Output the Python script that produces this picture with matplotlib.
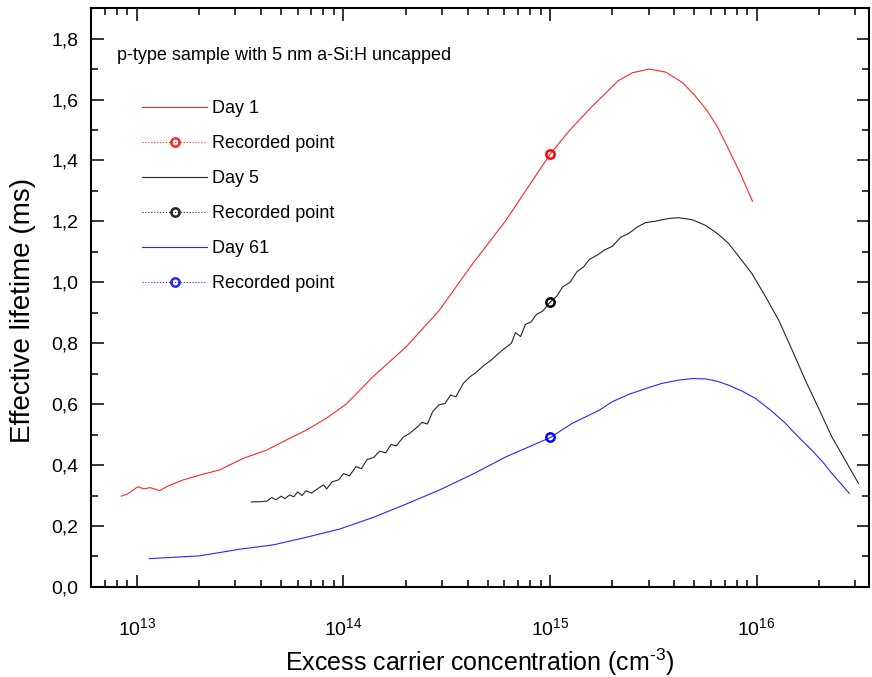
import math
import matplotlib
matplotlib.use("Agg")
import matplotlib.pyplot as plt
import matplotlib.ticker as mticker
from matplotlib.lines import Line2D

plt.rcParams['font.family'] = ['Liberation Sans', 'DejaVu Sans']
plt.rcParams['mathtext.fontset'] = 'custom'
plt.rcParams['mathtext.rm'] = 'Liberation Sans'
plt.rcParams['mathtext.it'] = 'Liberation Sans:italic'

# Day 1 (rojo)
n_dia1 = [8.4e12, 9.0e12, 9.6e12, 1.01e13, 1.08e13, 1.16e13, 1.29e13, 1.40e13,
          1.67e13, 2.01e13, 2.51e13, 3.27e13, 4.24e13, 5.28e13, 6.61e13, 8.24e13,
          1.03e14, 1.39e14, 2.01e14, 2.91e14, 4.22e14, 6.11e14, 8.22e14, 1.0e15,
          1.24e15, 1.58e15, 1.82e15, 2.14e15, 2.51e15, 3.02e15, 3.63e15, 4.37e15,
          5.0e15, 5.75e15, 6.46e15, 7.24e15, 8.3e15, 9.55e15]
tau_dia1 = [0.298, 0.305, 0.318, 0.329, 0.322, 0.326, 0.316, 0.330,
            0.351, 0.367, 0.384, 0.422, 0.449, 0.482, 0.515, 0.553,
            0.600, 0.690, 0.788, 0.908, 1.061, 1.203, 1.334, 1.420,
            1.498, 1.574, 1.615, 1.662, 1.688, 1.700, 1.690, 1.656,
            1.615, 1.564, 1.510, 1.443, 1.360, 1.266]

# Day 5 (negro)
n_dia5 = [3.58e13, 4.0e13, 4.27e13, 4.5e13, 4.7e13, 5.0e13, 5.2e13, 5.5e13,
          5.75e13, 6.0e13, 6.3e13, 6.6e13, 7.0e13, 7.6e13, 8.0e13, 8.3e13,
          8.8e13, 9.5e13, 1.0e14, 1.07e14, 1.15e14, 1.22e14, 1.3e14, 1.4e14,
          1.5e14, 1.6e14, 1.7e14, 1.8e14, 1.95e14, 2.1e14, 2.25e14, 2.4e14,
          2.55e14, 2.7e14, 2.9e14, 3.1e14, 3.3e14, 3.5e14, 3.8e14, 4.1e14,
          4.4e14, 4.8e14, 5.2e14, 5.6e14, 6.0e14, 6.5e14, 6.8e14, 7.2e14,
          7.6e14, 8.1e14, 8.6e14, 9.2e14, 1.0e15, 1.08e15, 1.15e15, 1.25e15,
          1.35e15, 1.45e15, 1.55e15, 1.7e15, 1.82e15, 2.0e15, 2.2e15, 2.4e15,
          2.65e15, 2.9e15, 3.2e15, 3.47e15, 3.8e15, 4.2e15, 4.6e15, 4.9e15,
          5.65e15, 6.46e15, 7.33e15, 8.3e15, 9.48e15, 1.1e16, 1.28e16, 1.48e16,
          1.72e16, 2.0e16, 2.31e16, 2.69e16, 3.11e16]
tau_dia5 = [0.279, 0.280, 0.282, 0.294, 0.286, 0.298, 0.290, 0.302,
            0.296, 0.312, 0.300, 0.316, 0.308, 0.325, 0.335, 0.322,
            0.345, 0.352, 0.372, 0.365, 0.395, 0.388, 0.418, 0.425,
            0.446, 0.440, 0.468, 0.463, 0.492, 0.505, 0.522, 0.540,
            0.535, 0.575, 0.598, 0.602, 0.630, 0.624, 0.668, 0.690,
            0.705, 0.728, 0.745, 0.765, 0.782, 0.800, 0.835, 0.822,
            0.862, 0.870, 0.895, 0.905, 0.935, 0.955, 0.985, 1.000,
            1.035, 1.050, 1.075, 1.090, 1.105, 1.118, 1.148, 1.160,
            1.182, 1.196, 1.200, 1.205, 1.210, 1.212, 1.208, 1.205,
            1.187, 1.160, 1.127, 1.080, 1.029, 0.955, 0.875, 0.780,
            0.679, 0.585, 0.493, 0.415, 0.340]

# Day 61 (azul)
n_dia61 = [1.15e13, 2.01e13, 3.15e13, 4.56e13, 6.61e13, 9.57e13, 1.39e14, 2.01e14,
           2.91e14, 4.22e14, 6.11e14, 1.0e15, 1.28e15, 1.73e15, 2.0e15, 2.4e15,
           2.9e15, 3.47e15, 4.2e15, 4.9e15, 5.65e15, 6.46e15, 7.33e15, 8.5e15,
           9.86e15, 1.17e16, 1.38e16, 1.58e16, 1.85e16, 2.09e16, 2.31e16, 2.81e16]
tau_dia61 = [0.093, 0.102, 0.124, 0.138, 0.163, 0.190, 0.228, 0.272,
             0.318, 0.370, 0.427, 0.490, 0.537, 0.580, 0.608, 0.632,
             0.651, 0.668, 0.679, 0.684, 0.683, 0.675, 0.662, 0.643,
             0.619, 0.580, 0.537, 0.495, 0.449, 0.410, 0.373, 0.307]

# Puntos registrados
n_punto = [1.0e15, 1.0e15, 1.0e15]
tau_punto = [1.42, 0.935, 0.493]

colores = ['#ff0000', '#000000', '#0000ff']
etiquetas = ['Day 1', 'Day 5', 'Day 61']

fig = plt.figure(figsize=(8.72, 6.77), dpi=100)
ax = fig.add_axes([0.1044, 0.133, 0.8922, 0.855])

curvas = [(n_dia1, tau_dia1), (n_dia5, tau_dia5), (n_dia61, tau_dia61)]
for (xs, ys), c in zip(curvas, colores):
    ax.plot(xs, ys, color=c, lw=0.8, alpha=0.85)
for xp, yp, c in zip(n_punto, tau_punto, colores):
    ax.plot([xp], [yp], 'o', mfc='none', mec=c, mew=1.8, ms=6)

ax.set_xscale('log')
ax.set_xlim(6e12, 3.5e16)
ax.set_ylim(0, 1.9)

ax.yaxis.set_major_locator(mticker.MultipleLocator(0.2))
ax.yaxis.set_minor_locator(mticker.MultipleLocator(0.1))
ax.yaxis.set_major_formatter(mticker.FuncFormatter(lambda v, p: f"{v:.1f}".replace('.', ',')))
ax.xaxis.set_major_locator(mticker.LogLocator(base=10))
ax.xaxis.set_minor_locator(mticker.LogLocator(base=10, subs=range(2, 10)))
ax.xaxis.set_major_formatter(mticker.FuncFormatter(lambda v, p: r"$10^{%d}$" % round(math.log10(v))))
ax.xaxis.set_minor_formatter(mticker.NullFormatter())

ax.tick_params(which='both', direction='in', top=True, right=True, width=1.1)
ax.tick_params(which='major', length=9, labelsize=14)
ax.tick_params(which='minor', length=5)
ax.tick_params(axis='x', which='major', pad=22)
ax.tick_params(axis='y', which='major', pad=9)
for s in ax.spines.values():
    s.set_linewidth(1.5)

ax.set_xlabel(r"Excess carrier concentration (cm$^{\text{-}3}$)", fontsize=18, labelpad=5)
ax.set_ylabel("Effective lifetime (ms)", fontsize=20)
ax.yaxis.set_label_coords(-0.071, 0.478)

ax.text(0.0334, 0.918, "p-type sample with 5 nm a-Si:H uncapped", transform=ax.transAxes,
        fontsize=13, va='center', ha='left')

handles = []
labels = []
for c, et in zip(colores, etiquetas):
    handles.append(Line2D([], [], color=c, lw=0.8, alpha=0.85))
    labels.append(et)
    handles.append(Line2D([], [], color=c, lw=0.8, ls=':', marker='o', mfc='none', mec=c,
                          mew=1.8, ms=6, alpha=0.85))
    labels.append('Recorded point')
ax.legend(handles, labels, loc='upper left', bbox_to_anchor=(0.0656, 0.841), frameon=False,
          fontsize=13, handlelength=3.6, handletextpad=0.28, labelspacing=1.0,
          borderpad=0, borderaxespad=0, markerscale=1)

fig.savefig('out.png', dpi=100)
